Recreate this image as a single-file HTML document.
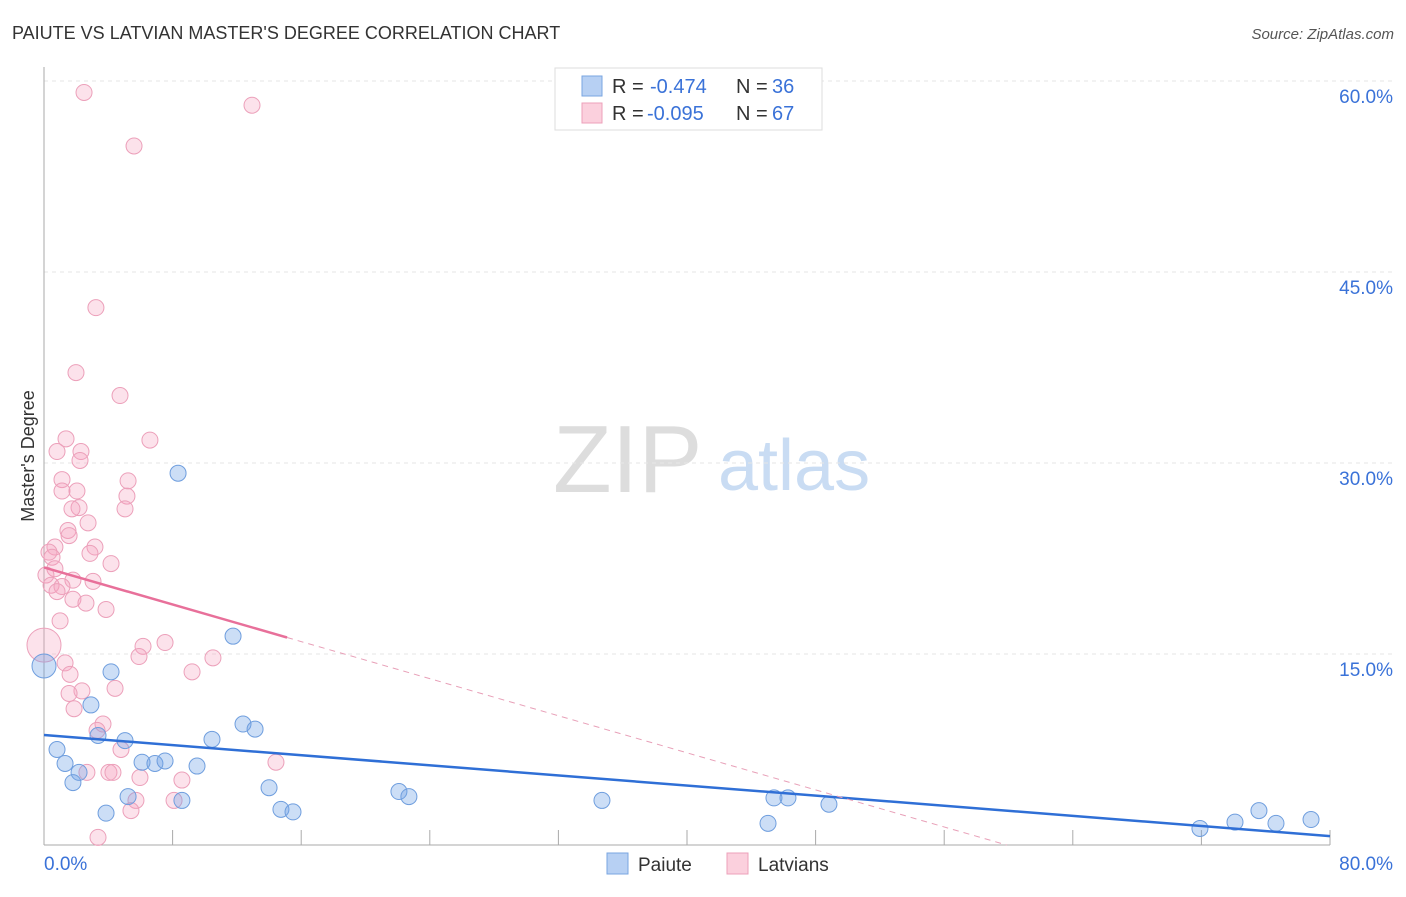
<!DOCTYPE html>
<html><head><meta charset="utf-8">
<style>
body{margin:0;background:#fff;font-family:"Liberation Sans",sans-serif;}
svg text{font-family:"Liberation Sans",sans-serif;}
</style></head>
<body>
<svg id="chart" width="1406" height="892" viewBox="0 0 1406 892" xmlns="http://www.w3.org/2000/svg">
<text x="12" y="39" font-size="18" fill="#333">PAIUTE VS LATVIAN MASTER'S DEGREE CORRELATION CHART</text>
<text x="1394" y="39" font-size="15" fill="#555" font-style="italic" text-anchor="end">Source: ZipAtlas.com</text>
<g>
<text x="553" y="492" font-size="96" fill="#ddd" font-family="Liberation Serif,serif">ZIP</text>
<text x="718" y="490" font-size="72" fill="#c9dcf3">atlas</text>
</g>
<g id="grid"></g>
<g id="axes"></g>
<g id="pts"></g>
<g id="trends"></g>
<text transform="translate(34,456) rotate(-90)" font-size="18" fill="#333" text-anchor="middle">Master's Degree</text>
<g>
<rect x="555" y="68" width="267" height="62" fill="#fff" stroke="#ddd"/>
<rect x="582" y="76" width="20" height="20" fill="#b7d0f3" stroke="#7aa6e0"/>
<rect x="582" y="103" width="20" height="20" fill="#fbd0dd" stroke="#eca0ba"/>
<text x="612" y="93" font-size="20" fill="#333">R =</text>
<text x="650" y="93" font-size="20" fill="#3a72d8">-0.474</text>
<text x="736" y="93" font-size="20" fill="#333">N =</text>
<text x="772" y="93" font-size="20" fill="#3a72d8">36</text>
<text x="612" y="120" font-size="20" fill="#333">R =</text>
<text x="647" y="120" font-size="20" fill="#3a72d8">-0.095</text>
<text x="736" y="120" font-size="20" fill="#333">N =</text>
<text x="772" y="120" font-size="20" fill="#3a72d8">67</text>
</g>
<g>
<rect x="607" y="853" width="21" height="21" fill="#b7d0f3" stroke="#7aa6e0"/>
<text x="638" y="871" font-size="19" fill="#333">Paiute</text>
<rect x="727" y="853" width="21" height="21" fill="#fbd0dd" stroke="#eca0ba"/>
<text x="758" y="871" font-size="19" fill="#333">Latvians</text>
</g>
</svg>
<script>
const yTicks=[15,30,45,60];
const yTickLabels=["15.0%","30.0%","45.0%","60.0%"];
const xTickCount=10;
const xEndLabels=["0.0%","80.0%"];
const paiuteX=[0,8.34,11.76,4.17,2.92,3.36,5.04,0.81,1.31,6.10,6.9,7.53,10.45,9.52,12.38,13.13,2.18,1.8,3.86,5.23,8.58,14.0,14.74,15.49,22.08,22.7,34.71,45.41,46.28,48.83,45.04,71.91,74.09,75.58,76.64,78.82];
const paiuteY=[14.06,29.2,16.4,13.6,11.0,8.6,8.2,7.5,6.4,6.5,6.4,6.6,8.3,6.2,9.5,9.1,5.7,4.9,2.5,3.8,3.5,4.5,2.8,2.6,4.2,3.8,3.5,3.7,3.7,3.2,1.7,1.3,1.8,2.7,1.7,2.0];
const latX=[2.49,12.94,5.6,3.23,1.99,4.73,1.37,6.59,0.81,2.3,2.24,1.12,5.23,1.12,2.05,5.16,2.18,1.74,5.04,2.74,1.49,1.56,0.68,3.17,0.31,2.86,0.5,4.17,0.68,0.12,1.8,3.05,0.44,1.12,0.81,1.8,2.61,3.86,1.0,0,6.16,7.53,5.91,10.51,1.31,9.21,1.62,4.42,2.36,1.56,1.87,3.67,3.3,4.79,14.43,2.67,4.04,4.29,5.97,8.58,5.72,8.09,5.41,3.36];
const latY=[59.1,58.1,54.9,42.2,37.1,35.3,31.9,31.8,30.9,30.9,30.2,28.7,28.6,27.8,27.8,27.4,26.5,26.4,26.4,25.3,24.7,24.3,23.4,23.4,23.0,22.9,22.6,22.1,21.7,21.2,20.8,20.7,20.4,20.3,19.9,19.3,19.0,18.5,17.6,15.7,15.6,15.9,14.8,14.7,14.3,13.6,13.4,12.3,12.1,11.9,10.7,9.5,9.0,7.5,6.5,5.7,5.7,5.7,5.3,5.1,3.5,3.5,2.7,0.6];
const paiuteTrend=[8.64,0.7];
const latTrend=[21.8,-0.364,15.12];
const NS="http://www.w3.org/2000/svg";
const X0=44,X1=1330,Y0=845,PXY=12.733;
const sx=v=>X0+(X1-X0)*v/80;
const sy=v=>Y0-v*PXY;
function mk(t,a,p){const e=document.createElementNS(NS,t);for(const k in a)e.setAttribute(k,a[k]);p.appendChild(e);return e;}
const grid=document.getElementById('grid'),axes=document.getElementById('axes');
yTicks.forEach((t,i)=>{
 const l=mk('line',{x1:X0,x2:1394,y1:sy(t),y2:sy(t),stroke:'#e6e6e6','stroke-dasharray':'4,4'},grid);
 
 
 const tx=mk('text',{x:1393,y:sy(t)+22,'font-size':19,fill:'#3a72d8','text-anchor':'end'},axes);
 tx.textContent=yTickLabels[i];
 
 
});
mk('line',{x1:X0,x2:X0,y1:67,y2:Y0,stroke:'#aaa'},axes);
mk('line',{x1:X0,x2:X1,y1:Y0,y2:Y0,stroke:'#aaa'},axes);
for(let i=0;i<=xTickCount;i++){const x=X0+(X1-X0)*i/xTickCount;const t=mk('line',{x1:x,x2:x,y1:830,y2:Y0,stroke:'#aaa'},axes);
 
 }
const xl0=mk('text',{x:44,y:870,'font-size':19,fill:'#3a72d8'},axes);xl0.textContent=xEndLabels[0];


const xl1=mk('text',{x:1393,y:870,'font-size':19,fill:'#3a72d8','text-anchor':'end'},axes);xl1.textContent=xEndLabels[1];


const pts=document.getElementById('pts');
latX.forEach((v,i)=>{const c=mk('circle',{cx:sx(v),cy:sy(latY[i]),r:(v===0?17:8),fill:'rgba(244,160,190,0.3)',stroke:'#eca0ba','stroke-width':1},pts);
 
 });
paiuteX.forEach((v,i)=>{const c=mk('circle',{cx:sx(v),cy:sy(paiuteY[i]),r:(v===0?12:8),fill:'rgba(110,160,230,0.35)',stroke:'#6f9ede','stroke-width':1},pts);
 
 });
const tr=document.getElementById('trends');
const b=mk('line',{x1:sx(0),y1:sy(paiuteTrend[0]),x2:sx(80),y2:sy(paiuteTrend[1]),stroke:'#2f6fd6','stroke-width':2.5},tr);


const pEnd=latTrend[2],pY=v=>latTrend[0]+latTrend[1]*v,zero=-latTrend[0]/latTrend[1];
const p1=mk('line',{x1:sx(0),y1:sy(pY(0)),x2:sx(pEnd),y2:sy(pY(pEnd)),stroke:'#e8709a','stroke-width':2.5},tr);


const p2=mk('line',{x1:sx(pEnd),y1:sy(pY(pEnd)),x2:sx(zero),y2:sy(0),stroke:'#e8a0b8','stroke-width':1,'stroke-dasharray':'6,5'},tr);


</script>
</body></html>
